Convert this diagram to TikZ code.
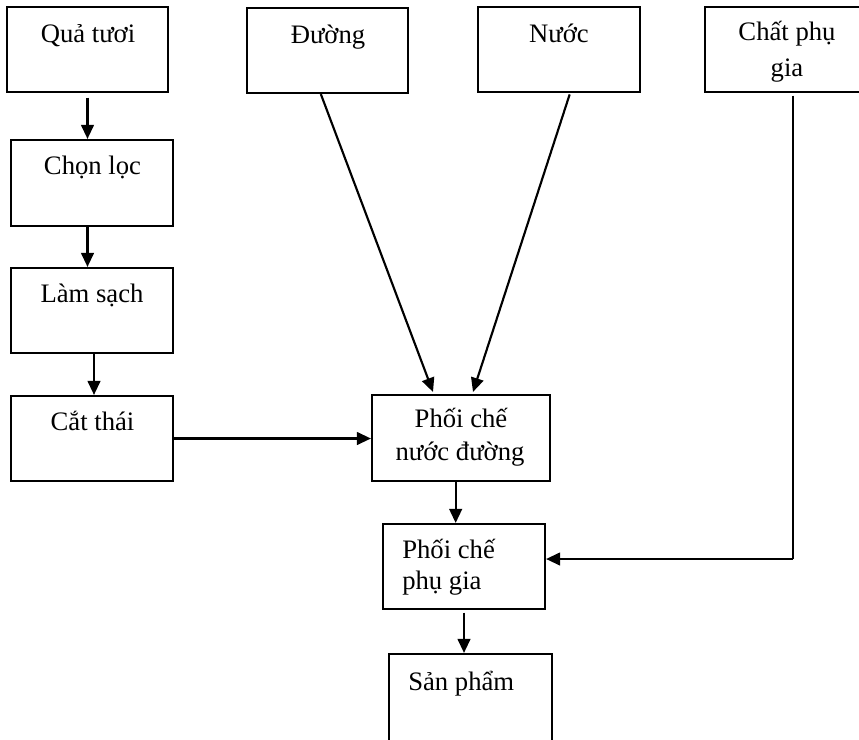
\documentclass[tikz,border=0pt]{standalone}
\usepackage{fontspec}
\setmainfont{Liberation Serif}
\usetikzlibrary{arrows.meta}

\begin{document}
\begin{tikzpicture}[x=0.75pt, y=-0.75pt,
  box/.style={draw, line width=1.6pt, rectangle, inner sep=0pt},
  lbl/.style={inner sep=0pt, anchor=base, font=\fontsize{20}{27}\selectfont},
  lblw/.style={lbl, anchor=base west},
  arr/.style={line width=1.6pt, -{Triangle[length=10.5pt, width=9.5pt]}},
  link/.style={line width=1.6pt}]

  \path[use as bounding box, fill=white] (0,0) rectangle (859,739);
  \clip (0,0) rectangle (859,739);

  % process boxes (sizes in pt = px * 0.75)
  \node[box, minimum width=120.75pt, minimum height=63.75pt] (qua)   at (87.5,49.5)  {};
  \node[box, minimum width=120.75pt, minimum height=63.75pt] (duong) at (327.5,50.5) {};
  \node[box, minimum width=121.5pt,  minimum height=63.75pt] (nuoc)  at (559,49.5)   {};
  \node[box, minimum width=121.5pt,  minimum height=63.75pt] (chat)  at (786,49.5)   {};
  \node[box, minimum width=121.5pt,  minimum height=64.5pt]  (chon)  at (92,183)     {};
  \node[box, minimum width=121.5pt,  minimum height=63.75pt] (lam)   at (92,310.5)   {};
  \node[box, minimum width=121.5pt,  minimum height=63.75pt] (cat)   at (92,438.5)   {};
  \node[box, minimum width=133.5pt,  minimum height=64.5pt]  (pcnd)  at (461,438)    {};
  \node[box, minimum width=121.5pt,  minimum height=63.75pt] (pcpg)  at (464,566.5)  {};
  \node[box, minimum width=122.25pt, minimum height=66pt]    (sp)    at (470.5,698)  {};

  % labels
  \node[lbl]  (tqua)   at (88,42)    {Quả tươi};
  \node[lbl]  (tduong) at (328,43)   {Đường};
  \node[lbl]  (tnuoc)  at (559,42)   {Nước};
  \node[lbl]  (tchat1) at (787,40)   {Chất phụ};
  \node[lbl]  (tchat2) at (787,76)   {gia};
  \node[lbl]  (tchon)  at (92.5,174) {Chọn lọc};
  \node[lbl]  (tlam)   at (92,302)   {Làm sạch};
  \node[lbl]  (tcat)   at (92.5,430) {Cắt thái};
  \node[lbl]  (tpc1)   at (461,427)  {Phối chế};
  \node[lbl]  (tpc2)   at (460,460)  {nước đường};
  \node[lblw] (tpg1)   at (402,558)  {Phối chế};
  \node[lblw] (tpg2)   at (402,589)  {phụ gia};
  \node[lblw] (tsp)    at (408,690)  {Sản phẩm};

  % flow connectors
  \draw[arr] ([yshift=-3.5pt]qua.south) -- (qua.south |- chon.north);
  \draw[arr] (chon.south -| qua.south) -- (lam.north -| qua.south);
  \draw[arr] ([xshift=1.5pt]lam.south) -- ([xshift=1.5pt]cat.north);
  \draw[arr] (cat.east) -- (cat.east -| pcnd.west);
  \draw[arr] ([xshift=-5pt]duong.south) -- ([xshift=-21pt,yshift=1.5pt]pcnd.north);
  \draw[arr] ([xshift=8pt,yshift=-1pt]nuoc.south) -- ([xshift=9pt,yshift=1.5pt]pcnd.north);
  \draw[arr] ([xshift=-4pt]pcnd.south) -- ([xshift=-4pt]pcnd.south |- pcpg.north);
  \draw[arr] ([yshift=-2pt]pcpg.south) -- (pcpg.south |- sp.north);

  \coordinate (bend) at (793,559);
  \draw[link] ([yshift=-2pt]chat.south -| bend) -- (bend);
  \draw[arr] (bend) -- (bend -| pcpg.east);
\end{tikzpicture}
\end{document}
